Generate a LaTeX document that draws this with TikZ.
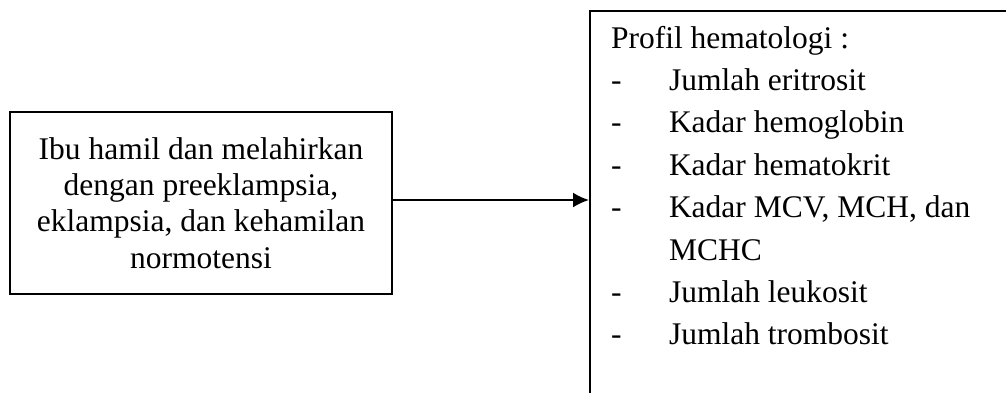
\documentclass[tikz,border=0pt]{standalone}
\usepackage{fontspec}
\setmainfont{Liberation Serif}
\usepackage{tikz}
\usetikzlibrary{arrows.meta}

\begin{document}
\begin{tikzpicture}[x=1pt,y=-1pt,line width=2pt,
	kotak/.style={draw, rectangle, inner sep=0pt}]
	\clip (0,0) rectangle (1006,392);
	\node[kotak, minimum width=382pt, minimum height=182pt, align=center,
	font=\fontsize{31.5}{36.3}\selectfont] (kiri) at (201,203)
	{Ibu hamil dan melahirkan\\dengan preeklampsia,\\eklampsia, dan kehamilan\\normotensi};%
	\node[kotak, anchor=north west, minimum width=600pt, minimum height=500pt] (hasil) at (589,10) {};
	\node[anchor=north west, align=left, inner sep=0pt,
	font=\fontsize{31.5}{42.4}\selectfont] (profil) at (610,25)
	{Profil hematologi :\\
	\makebox[58pt][l]{-}Jumlah eritrosit\\
	\makebox[58pt][l]{-}Kadar hemoglobin\\
	\makebox[58pt][l]{-}Kadar hematokrit\\
	\makebox[58pt][l]{-}Kadar MCV, MCH, dan\\
	\makebox[58pt][l]{}MCHC\\
	\makebox[58pt][l]{-}Jumlah leukosit\\
	\makebox[58pt][l]{-}Jumlah trombosit};
	
	\draw[->,>={Latex[length=16pt,width=15pt]}] ([yshift=3pt]kiri.east) -- ([yshift=3pt]kiri.east -| hasil.west);
\end{tikzpicture}
\end{document}
